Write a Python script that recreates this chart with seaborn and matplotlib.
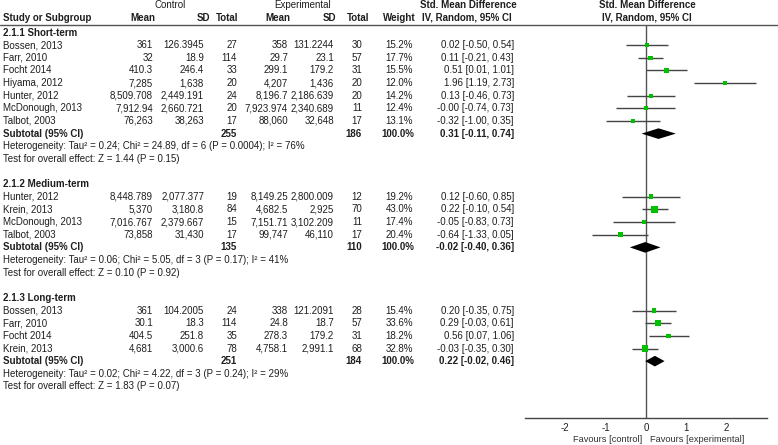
import numpy as np
import pandas as pd
import matplotlib
matplotlib.use("Agg")
import matplotlib.pyplot as plt
import seaborn as sns

sns.set_style("white")
plt.rcParams.update({
    "font.family": ["Liberation Sans", "DejaVu Sans"],
    "font.size": 7.0,
    "text.color": "#1e1e1e",
    "axes.unicode_minus": False,
})

# --- data ---
groups = ["2.1.1 Short-term", "2.1.2 Medium-term", "2.1.3 Long-term"]
group_sizes = [7, 4, 4]

study = ["Bossen, 2013", "Farr, 2010", "Focht 2014", "Hiyama, 2012", "Hunter, 2012",
         "McDonough, 2013", "Talbot, 2003",
         "Hunter, 2012", "Krein, 2013", "McDonough, 2013", "Talbot, 2003",
         "Bossen, 2013", "Farr, 2010", "Focht 2014", "Krein, 2013"]
ctrl_mean = ["361", "32", "410.3", "7,285", "8,509.708", "7,912.94", "76,263",
             "8,448.789", "5,370", "7,016.767", "73,858",
             "361", "30.1", "404.5", "4,681"]
ctrl_sd = ["126.3945", "18.9", "246.4", "1,638", "2,449.191", "2,660.721", "38,263",
           "2,077.377", "3,180.8", "2,379.667", "31,430",
           "104.2005", "18.3", "251.8", "3,000.6"]
ctrl_n = [27, 114, 33, 20, 24, 20, 17, 19, 84, 15, 17, 24, 114, 35, 78]
exp_mean = ["358", "29.7", "299.1", "4,207", "8,196.7", "7,923.974", "88,060",
            "8,149.25", "4,682.5", "7,151.71", "99,747",
            "338", "24.8", "278.3", "4,758.1"]
exp_sd = ["131.2244", "23.1", "179.2", "1,436", "2,186.639", "2,340.689", "32,648",
          "2,800.009", "2,925", "3,102.209", "46,110",
          "121.2091", "18.7", "179.2", "2,991.1"]
exp_n = [30, 57, 31, 20, 20, 11, 17, 12, 70, 11, 17, 28, 57, 31, 68]
weight = [15.2, 17.7, 15.5, 12.0, 14.2, 12.4, 13.1,
          19.2, 43.0, 17.4, 20.4,
          15.4, 33.6, 18.2, 32.8]
smd = [0.02, 0.11, 0.51, 1.96, 0.13, -0.00, -0.32,
       0.12, 0.22, -0.05, -0.64,
       0.20, 0.29, 0.56, -0.03]
ci_lo = [-0.50, -0.21, 0.01, 1.19, -0.46, -0.74, -1.00,
         -0.60, -0.10, -0.83, -1.33,
         -0.35, -0.03, 0.07, -0.35]
ci_hi = [0.54, 0.43, 1.01, 2.73, 0.73, 0.73, 0.35,
         0.85, 0.54, 0.73, 0.05,
         0.75, 0.61, 1.06, 0.30]

sub_smd = [0.31, -0.02, 0.22]
sub_lo = [-0.11, -0.40, -0.02]
sub_hi = [0.74, 0.36, 0.46]
heterogeneity = [
    "Heterogeneity: Tau\u00b2 = 0.24; Chi\u00b2 = 24.89, df = 6 (P = 0.0004); I\u00b2 = 76%",
    "Heterogeneity: Tau\u00b2 = 0.06; Chi\u00b2 = 5.05, df = 3 (P = 0.17); I\u00b2 = 41%",
    "Heterogeneity: Tau\u00b2 = 0.02; Chi\u00b2 = 4.22, df = 3 (P = 0.24); I\u00b2 = 29%",
]
overall = [
    "Test for overall effect: Z = 1.44 (P = 0.15)",
    "Test for overall effect: Z = 0.10 (P = 0.92)",
    "Test for overall effect: Z = 1.83 (P = 0.07)",
]
xticks = [-2, -1, 0, 1, 2]

# --- layout (pixel geometry of the figure) ---
W, H = 778, 445
ROW0_PX, ROW_STEP = 32.5, 12.64


def px2row(py):
    return (py - ROW0_PX) / ROW_STEP


col_right = dict(cm=153, csd=204, cn=237, em=288, esd=334, en=362, w=413, ci=514)
hdr_right = dict(cm=155, csd=210, cn=238, em=290, esd=336, en=369, w=416, ci=512)
TXT = "#1e1e1e"
GREEN = "#00c000"
LEFT = 3

# row index for every line of the table
study_rows, head_rows, sub_rows, het_rows, test_rows = [], [], [], [], []
r = 0
for g, n in enumerate(group_sizes):
    head_rows.append(r)
    study_rows.extend(range(r + 1, r + 1 + n))
    sub_rows.append(r + n + 1)
    het_rows.append(r + n + 2)
    test_rows.append(r + n + 3)
    r += n + 5

fig = plt.figure(figsize=(W / 100, H / 100), dpi=100)
ax_t = fig.add_axes([0, 0, 1, 1])
ax_t.set_xlim(0, W)
ax_t.set_ylim(px2row(H), px2row(0))
ax_t.axis("off")

# headers
ax_t.text(170, px2row(5.5), "Control", ha="center", va="center")
ax_t.text(303, px2row(5.5), "Experimental", ha="center", va="center")
ax_t.text(468, px2row(5.5), "Std. Mean Difference", ha="center", va="center", weight="bold")
ax_t.text(647, px2row(5.5), "Std. Mean Difference", ha="center", va="center", weight="bold")
hy = px2row(18)
ax_t.text(LEFT, hy, "Study or Subgroup", ha="left", va="center", weight="bold")
for key, lab in [("cm", "Mean"), ("csd", "SD"), ("cn", "Total"), ("em", "Mean"),
                 ("esd", "SD"), ("en", "Total"), ("w", "Weight"), ("ci", "IV, Random, 95% CI")]:
    ax_t.text(hdr_right[key], hy, lab, ha="right", va="center", weight="bold")
ax_t.text(647, hy, "IV, Random, 95% CI", ha="center", va="center", weight="bold")
ax_t.axhline(px2row(25), color="#555555", lw=1)

# study rows
for i, row in enumerate(study_rows):
    ax_t.text(LEFT, row, study[i], ha="left", va="center")
    vals = [ctrl_mean[i], ctrl_sd[i], str(ctrl_n[i]), exp_mean[i], exp_sd[i], str(exp_n[i]),
            f"{weight[i]:.1f}%", f"{smd[i]:.2f} [{ci_lo[i]:.2f}, {ci_hi[i]:.2f}]"]
    for key, v in zip(["cm", "csd", "cn", "em", "esd", "en", "w", "ci"], vals):
        ax_t.text(col_right[key], row, v, ha="right", va="center")

# group rows
start = 0
for g, n in enumerate(group_sizes):
    sl = slice(start, start + n)
    ax_t.text(LEFT, head_rows[g], groups[g], ha="left", va="center", weight="bold")
    sr = sub_rows[g]
    ax_t.text(LEFT, sr, "Subtotal (95% CI)", ha="left", va="center", weight="bold")
    ax_t.text(col_right["cn"], sr, str(sum(ctrl_n[sl])), ha="right", va="center", weight="bold")
    ax_t.text(col_right["en"], sr, str(sum(exp_n[sl])), ha="right", va="center", weight="bold")
    ax_t.text(col_right["w"] + 1, sr, "100.0%", ha="right", va="center", weight="bold")
    ax_t.text(col_right["ci"], sr, f"{sub_smd[g]:.2f} [{sub_lo[g]:.2f}, {sub_hi[g]:.2f}]",
              ha="right", va="center", weight="bold")
    ax_t.text(LEFT, het_rows[g], heterogeneity[g], ha="left", va="center")
    ax_t.text(LEFT, test_rows[g], overall[g], ha="left", va="center")
    start += n

# forest panel
axis_px, top_px = 418, 25
ax_f = fig.add_axes([525 / W, (H - axis_px) / H, 242 / W, (axis_px - top_px) / H])
ax_f.set_xlim(-3, 3)
ax_f.set_ylim(px2row(axis_px), px2row(top_px))
ax_f.patch.set_alpha(0)

ax_f.axvline(0, color="#555555", lw=1, zorder=1)
ax_f.hlines(study_rows, ci_lo, ci_hi, color="#444444", lw=1, zorder=2)

df = pd.DataFrame({"smd": smd, "row": study_rows, "weight": weight})
sns.scatterplot(data=df, x="smd", y="row", size="weight", sizes=(7.1, 25.4),
                size_norm=(min(weight), max(weight)), marker="s", color=GREEN,
                linewidth=0, legend=False, ax=ax_f, zorder=3)

for g in range(len(groups)):
    yr, h = sub_rows[g], 0.42
    ax_f.fill([sub_lo[g], sub_smd[g], sub_hi[g], sub_smd[g]],
              [yr, yr - h, yr, yr + h], color="black", lw=0, zorder=4)

for s in ["top", "right", "left"]:
    ax_f.spines[s].set_visible(False)
ax_f.spines["bottom"].set_color("#444444")
ax_f.spines["bottom"].set_linewidth(1)
ax_f.set_yticks([])
ax_f.set_xticks(xticks)
ax_f.set_xticklabels([str(t) for t in xticks])
ax_f.tick_params(axis="x", direction="inout", length=6, width=0.8, colors="#444444",
                 labelcolor=TXT, labelsize=7.0, pad=0.5)
ax_f.set_xlabel("")
ax_f.set_ylabel("")
ax_f.text(-0.1, px2row(439), "Favours [control]", ha="right", va="center",
          color="#333333", fontsize=6.7)
ax_f.text(0.1, px2row(439), "Favours [experimental]", ha="left", va="center",
          color="#333333", fontsize=6.7)

fig.savefig("out.png", dpi=100)
